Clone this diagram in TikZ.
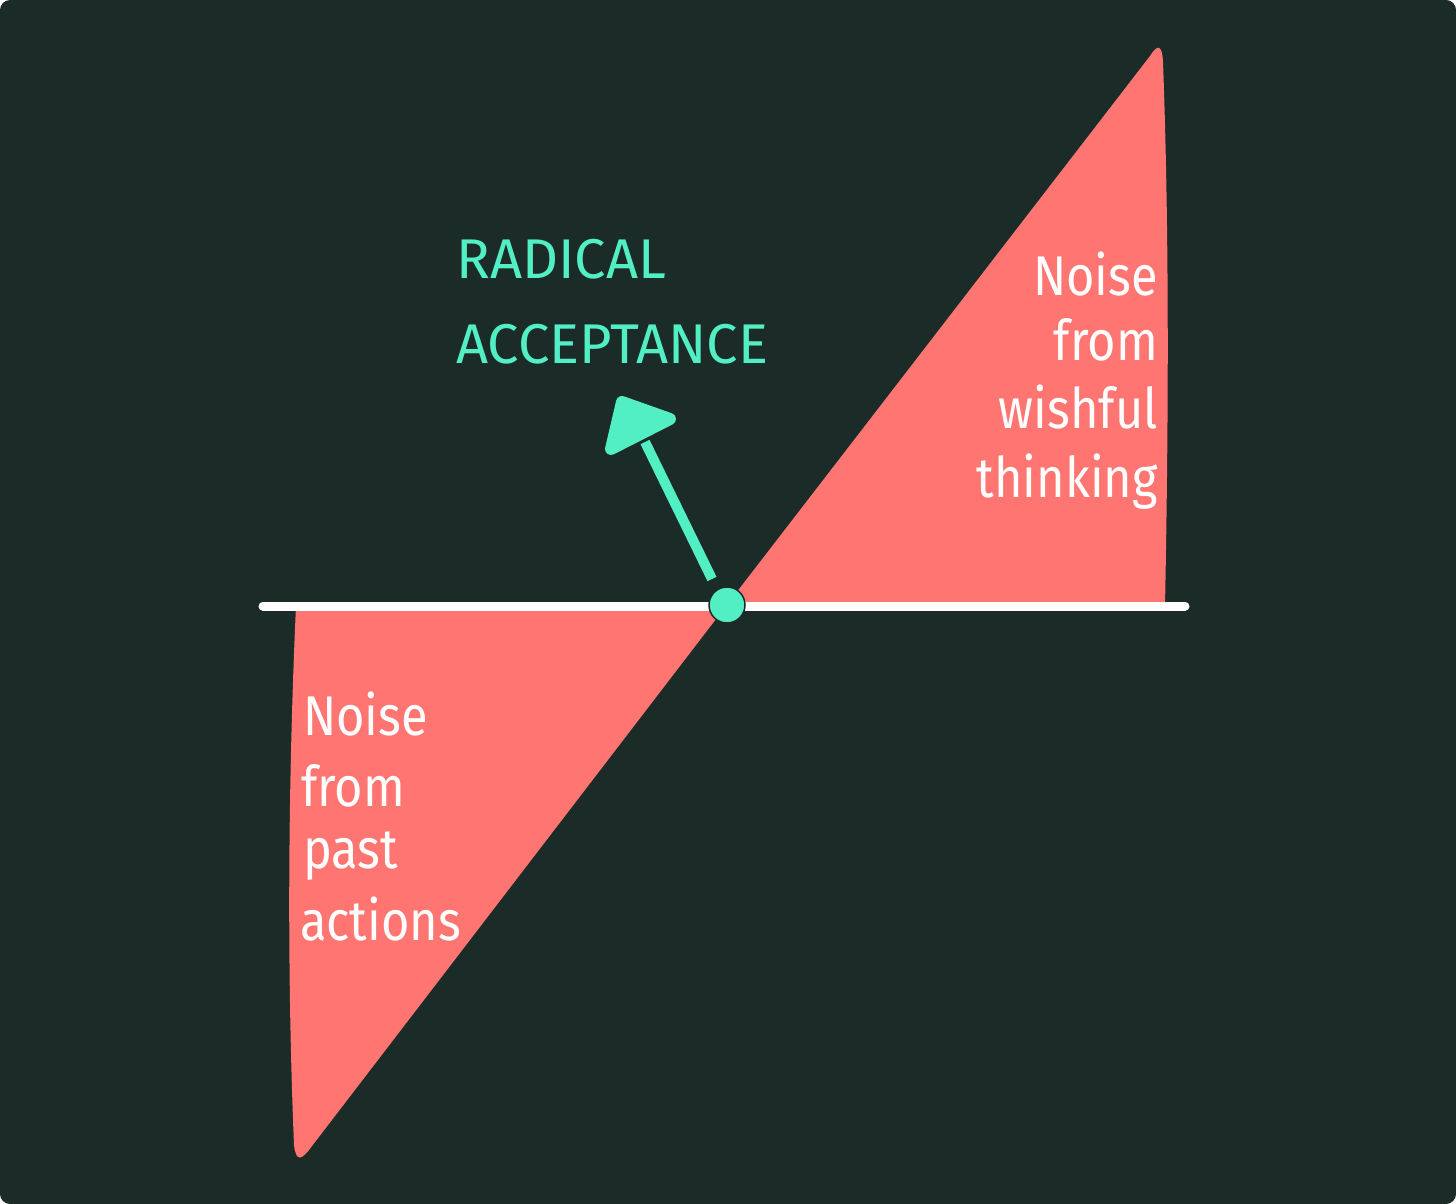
\documentclass[tikz,border=0pt]{standalone}
\usepackage{fontspec}
\setmainfont{Fira Sans}
\newfontfamily\narrowfont[FakeStretch=0.87]{Fira Sans}
\newfontfamily\tealfont{Fira Sans}
\definecolor{bg}{HTML}{1B2B28}
\definecolor{pinkfill}{HTML}{FF7571}
\definecolor{teal}{HTML}{52EFC4}
\tikzset{
  lbl/.style={text=white, inner sep=0pt, font=\narrowfont\fontsize{56}{67}\selectfont},
  tlbl/.style={text=teal, inner sep=0pt, font=\tealfont\fontsize{56}{67}\selectfont},
}
\begin{document}
\begin{tikzpicture}[x=1pt,y=-1pt]
\useasboundingbox (0,0) rectangle (1456,1204);
\fill[white] (0,0) rectangle (1456,1204);
\fill[bg, rounded corners=10pt] (0,0) rectangle (1456,1204);
% pink regions
\fill[pinkfill] (726,606) -- (1150,56) .. controls (1157,45) and (1162,43) .. (1163,62)
  .. controls (1170,250) and (1168,450) .. (1165,606) -- cycle;
\fill[pinkfill] (726,606) -- (312,1146) .. controls (302,1160) and (296,1163) .. (294,1145)
  .. controls (286,950) and (289,760) .. (296,606) -- cycle;
% axis
\coordinate (L) at (263,606);
\coordinate (R) at (1185,606);
\draw[white, line width=9pt, line cap=round] (L) -- (R);
% arrow
\coordinate (s0) at (712,579);
\coordinate (s1) at (645,442);
\draw[teal, line width=10pt] (s0) -- (s1);
\fill[teal, draw=teal, line width=12pt, line join=round] (622,402) -- (670,419) -- (611,449) -- cycle;
% dot
\node[circle, fill=teal, draw=bg, line width=1.5pt, minimum size=36pt, inner sep=0pt] (dot) at (727,605) {};
% texts
\node[tlbl, anchor=base west] (r1) at (456,278) {RADICAL};
\node[tlbl, anchor=base west] (r2) at (456,363) {ACCEPTANCE};
\node[lbl, anchor=base east] (w1) at (1158,295) {Noise};
\node[lbl, anchor=base east] (w2) at (1158,360) {from};
\node[lbl, anchor=base east] (w3) at (1158,428) {wishful};
\node[lbl, anchor=base east] (w4) at (1158,497) {thinking};
\node[lbl, anchor=base west] (p1) at (303,735) {Noise};
\node[lbl, anchor=base west] (p2) at (301,806) {from};
\node[lbl, anchor=base west] (p3) at (303,868) {past};
\node[lbl, anchor=base west] (p4) at (300,940) {actions};
\end{tikzpicture}
\end{document}
